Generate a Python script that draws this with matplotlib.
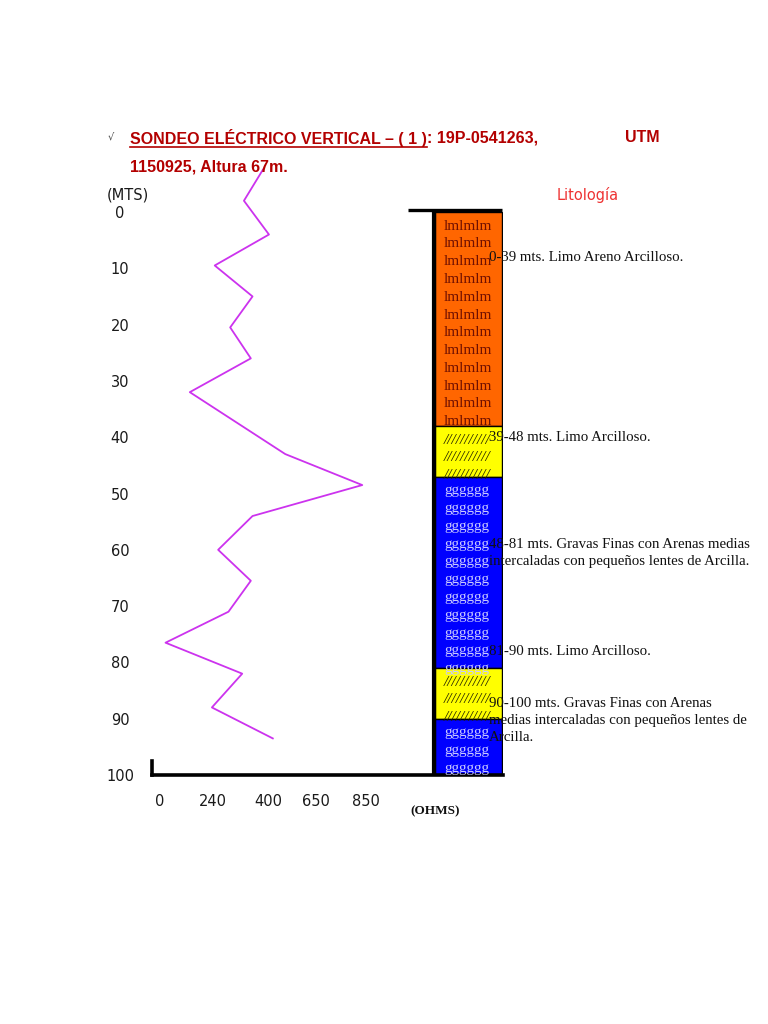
import numpy as np
import matplotlib
matplotlib.use("Agg")
import matplotlib.pyplot as plt
from matplotlib.patches import Rectangle

# sondeo data (resistividad aparente vs profundidad)
depth_m = [-7.5, -2, 4, 9.5, 15, 20.5, 26, 32, 43, 48.5, 54, 60, 65.5, 71, 76.5, 82, 88, 93.5]
rho_ohm = [385, 330, 405, 245, 355, 290, 350, 135, 490, 835, 355, 255, 350, 285, 25, 325, 235, 425]

x_tick_vals = [0, 240, 400, 650, 850]
y_tick_vals = [0, 10, 20, 30, 40, 50, 60, 70, 80, 90, 100]

# litologia
layer_top = [0, 38, 47, 81, 90]
layer_bottom = [38, 47, 81, 90, 100]
layer_type = ["limo_areno", "limo_arc", "gravas", "limo_arc", "gravas"]

descriptions = [
    "0-39 mts. Limo Areno Arcilloso.",
    "39-48 mts. Limo Arcilloso.",
    "48-81 mts. Gravas Finas con Arenas medias\nintercaladas con pequeños lentes de Arcilla.",
    "81-90 mts. Limo Arcilloso.",
    "90-100 mts. Gravas Finas con Arenas\nmedias intercaladas con pequeños lentes de\nArcilla.",
]
desc_depth = [6.9, 38.9, 57.9, 76.9, 86.1]

styles = {
    "limo_areno": dict(fc="#ff6600", txt="lmlmlm", tc="#701000", style="normal"),
    "limo_arc": dict(fc="#ffff00", txt="///////////", tc="#222200", style="italic"),
    "gravas": dict(fc="#0000ff", txt="gggggg", tc="#c8c8ff", style="normal"),
}

W, H = 768, 1024


def fx(x):
    return x / W


def fy(y):
    return 1 - y / H


fig = plt.figure(figsize=(W / 100, H / 100), dpi=100)

# axes: depth 0 at px 212, depth 100 at px 775, x in px offsets from 152
ax = fig.add_axes([fx(152), fy(775), (503 - 152) / W, (775 - 212) / H])
ax.set_xlim(0, 351)
ax.set_ylim(100, 0)
ax.patch.set_visible(False)

tick_pos = np.array([160, 213, 268, 316, 366]) - 152
curve_x = np.interp(rho_ohm, x_tick_vals, tick_pos)
ax.plot(curve_x, depth_m, color="#cc33ee", lw=1.3, clip_on=False)

for s in ["top", "right"]:
    ax.spines[s].set_visible(False)
ax.spines["bottom"].set_linewidth(2.6)
ax.spines["left"].set_linewidth(2.6)
ax.spines["left"].set_bounds(97.5, 100)

ax.set_yticks(y_tick_vals, [str(v) for v in y_tick_vals])
ax.tick_params(axis="y", length=0, pad=23, labelsize=10.5, labelcolor="#1a1a1a")
for t in ax.get_yticklabels():
    t.set_horizontalalignment("center")
ax.set_xticks(tick_pos, [str(v) for v in x_tick_vals])
ax.tick_params(axis="x", length=0, pad=14, labelsize=10.5, labelcolor="#1a1a1a")

# columna litologica
col_x0, col_x1 = 283, 350
row_step = 3.16
for top, bot, kind in zip(layer_top, layer_bottom, layer_type):
    st = styles[kind]
    rect = Rectangle((col_x0, top), col_x1 - col_x0, bot - top,
                     facecolor=st["fc"], edgecolor="black", lw=1, zorder=2)
    ax.add_patch(rect)
    d = top + 2.5
    while d < bot + 1.5:
        t = ax.text(292, d, st["txt"], color=st["tc"], fontsize=11,
                    family="Liberation Serif", style=st["style"],
                    ha="left", va="center", zorder=3)
        t.set_clip_path(rect)
        d += row_step

ax.plot([282, 282], [-0.3, 100], color="black", lw=3, zorder=4,
        solid_capstyle="butt", clip_on=False)
ax.plot([256, 350], [-0.3, -0.3], color="black", lw=2.4, zorder=4,
        solid_capstyle="butt", clip_on=False)

for txt, d in zip(descriptions, desc_depth):
    ax.text(337, d, txt, fontsize=10.7, family="Liberation Serif",
            color="#111111", ha="left", va="top", linespacing=1.42,
            zorder=5, clip_on=False)

# textos
fig.text(fx(107), fy(195), "(MTS)", fontsize=10.5, color="#1a1a1a",
         ha="left", va="center")
fig.text(fx(557), fy(195), "Litología", fontsize=10.5, color="#ee3333",
         ha="left", va="center")
fig.text(fx(410), fy(811), "(OHMS)", fontsize=9.5, family="Liberation Serif",
         weight="bold", color="#111111", ha="left", va="center")
fig.text(fx(108), fy(137), "√", fontsize=7, color="#444444",
         ha="left", va="center")

title_kw = dict(fontsize=11.5, family="Liberation Sans", weight="bold",
                color="#b30000", va="center")
t1 = fig.text(fx(130), fy(138), "SONDEO ELÉCTRICO VERTICAL – ( 1 )", ha="left", **title_kw)
fig.canvas.draw()
bb = t1.get_window_extent()
fig.text(bb.x1 / W, fy(138), ": 19P-0541263,", ha="left", **title_kw)
fig.add_artist(plt.Line2D([bb.x0 / W, bb.x1 / W], [fy(147), fy(147)],
                          color="#b30000", lw=1.2))
fig.text(fx(660), fy(138), "UTM", ha="right", **title_kw)
fig.text(fx(130), fy(167), "1150925, Altura 67m.", ha="left", **title_kw)

fig.savefig("out.png", dpi=100)
